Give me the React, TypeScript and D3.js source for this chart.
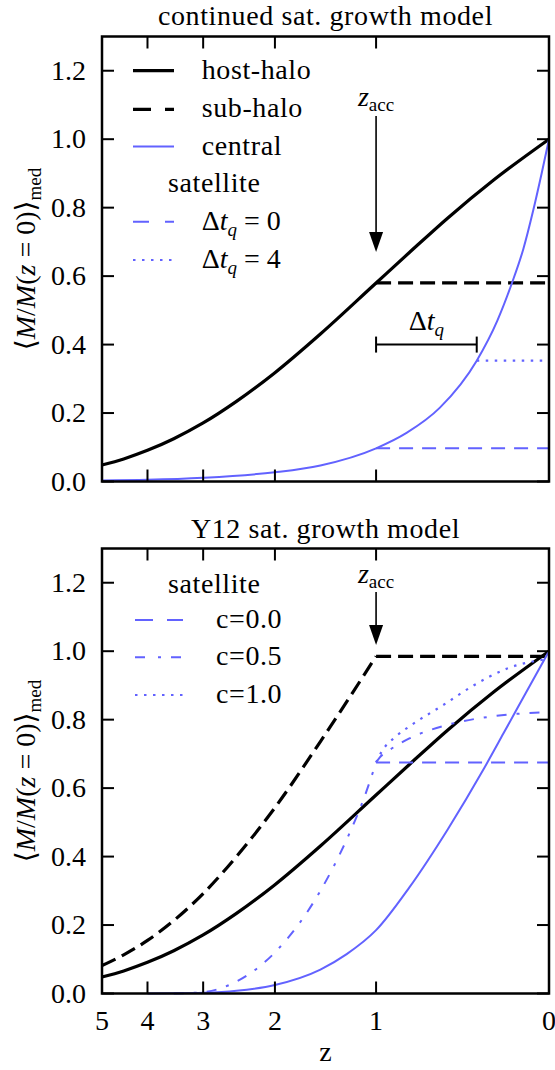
import React from 'react';
import * as d3 from 'd3';

// ---------- data ----------
const zTicks = [5, 4, 3, 2, 1, 0];
const yTicks = [0, 0.2, 0.4, 0.6, 0.8, 1.0, 1.2];
const yTickLabels = ['0.0', '0.2', '0.4', '0.6', '0.8', '1.0', '1.2'];

// host halo (same in both panels)
const hostZ = [5, 4.5, 4, 3.5, 3, 2.5, 2, 1.5, 1, 0.75, 0.5, 0.25, 0];
const hostM = [0.048, 0.066, 0.091, 0.125, 0.171, 0.234, 0.318, 0.431, 0.58, 0.669, 0.77, 0.88, 1.0];

// top panel: central galaxy
const centralTopZ = [5, 4, 3, 2, 1.5, 1, 0.77, 0.55, 0.336, 0.23, 0.16, 0.108, 0.066, 0.03, 0];
const centralTopM = [0.003, 0.005, 0.011, 0.027, 0.047, 0.097, 0.142, 0.215, 0.353, 0.47, 0.58, 0.68, 0.79, 0.9, 1.0];

// top panel: sub-halo / satellites after accretion
const zAcc = 1;
const subHaloTopZ = [1, 0];
const subHaloTopM = [0.58, 0.58];
const satDt0Z = [1, 0];
const satDt0M = [0.097, 0.097];
const satDt4Z = [0.336, 0];
const satDt4M = [0.353, 0.353];
const dtBarZ = [1, 0.336];
const dtBarM = 0.4;

// bottom panel
const subHaloBotZ = [5, 4.5, 4, 3.5, 3, 2.5, 2, 1.5, 1];
const subHaloBotM = [0.082, 0.113, 0.155, 0.213, 0.292, 0.4, 0.543, 0.736, 0.985];
const subHaloBotFlatZ = [1, 0];
const subHaloBotFlatM = [0.985, 0.985];

const centralBotZ = [4, 3.5, 3, 2.5, 2, 1.5, 1.25, 1, 0.75, 0.5, 0.3, 0.2, 0.1, 0];
const centralBotM = [0.0, 0.0005, 0.002, 0.008, 0.025, 0.07, 0.115, 0.185, 0.31, 0.48, 0.655, 0.76, 0.875, 1.0];

const satPreZ = [3.5, 3, 2.5, 2, 1.5, 1.25, 1.1, 1];
const satPreM = [0.0, 0.004, 0.035, 0.12, 0.3, 0.45, 0.57, 0.675];

const satC0Z = [1, 0];
const satC0M = [0.675, 0.675];
const satC05Z = [1, 0.97, 0.9, 0.75, 0.5, 0.25, 0];
const satC05M = [0.675, 0.69, 0.71, 0.745, 0.785, 0.81, 0.822];
const satC1Z = [1, 0.95, 0.85, 0.737, 0.53, 0.365, 0.18, 0];
const satC1M = [0.675, 0.71, 0.75, 0.784, 0.842, 0.896, 0.95, 0.978];

// ---------- layout ----------
const W = 555;
const H = 1070;
const X0 = 102;
const X1 = 549;
const TOP = { y0: 36.5, y1: 481.5 };
const BOT = { y0: 548.5, y1: 993.5 };
const BLUE = '#6262ff';
const FONT = '"Liberation Serif", "DejaVu Serif", serif';
const FS = 28;
const SUB = 19;
const LS = 0.6;

const x = d3.scaleLog().domain([6, 1]).range([X0, X1]);
const xz = (z: number) => x(1 + z);

function mkY(p: { y0: number; y1: number }) {
  return d3.scaleLinear().domain([0, 1.3]).range([p.y1, p.y0]);
}

function pathOf(zs: number[], ms: number[], y: d3.ScaleLinear<number, number>, curved = true) {
  const pts: [number, number][] = zs.map((z, i) => [xz(z), y(ms[i])]);
  const gen = d3.line<[number, number]>().x(d => d[0]).y(d => d[1]);
  if (curved) gen.curve(d3.curveMonotoneX);
  return gen(pts) || '';
}

function Frame({ p }: { p: { y0: number; y1: number } }) {
  const y = mkY(p);
  const TL = 12;
  return (
    <g>
      {zTicks.map(t => (
        <g key={'x' + t}>
          <line x1={xz(t)} x2={xz(t)} y1={p.y1} y2={p.y1 - TL} stroke="#000" strokeWidth={2} />
          <line x1={xz(t)} x2={xz(t)} y1={p.y0} y2={p.y0 + TL} stroke="#000" strokeWidth={2} />
        </g>
      ))}
      {yTicks.map((t, i) => (
        <g key={'y' + t}>
          <line x1={X0} x2={X0 + TL} y1={y(t)} y2={y(t)} stroke="#000" strokeWidth={2} />
          <line x1={X1} x2={X1 - TL} y1={y(t)} y2={y(t)} stroke="#000" strokeWidth={2} />
          <text x={86} y={y(t) + 9} textAnchor="end" fontFamily={FONT} fontSize={FS}>{yTickLabels[i]}</text>
        </g>
      ))}
      <rect x={X0} y={p.y0} width={X1 - X0} height={p.y1 - p.y0} fill="none" stroke="#000" strokeWidth={2.5} />
      <text
        transform={`translate(35,${(p.y0 + p.y1) / 2}) rotate(-90)`}
        textAnchor="middle"
        fontFamily={FONT}
        fontSize={FS}
      >
        <tspan>⟨</tspan>
        <tspan fontStyle="italic">M</tspan>
        <tspan>/</tspan>
        <tspan fontStyle="italic">M</tspan>
        <tspan>(</tspan>
        <tspan fontStyle="italic">z</tspan>
        <tspan> = 0)⟩</tspan>
        <tspan fontSize={SUB} dy={6}>med</tspan>
      </text>
    </g>
  );
}

function Arrow({ xPos, yFrom, yTo }: { xPos: number; yFrom: number; yTo: number }) {
  const hl = 20;
  const hw = 7;
  return (
    <g>
      <line x1={xPos} x2={xPos} y1={yFrom} y2={yTo - hl + 2} stroke="#000" strokeWidth={1.6} />
      <path d={`M${xPos - hw},${yTo - hl} L${xPos + hw},${yTo - hl} L${xPos},${yTo} Z`} fill="#000" />
    </g>
  );
}

function ZAccLabel({ xPos, yBase }: { xPos: number; yBase: number }) {
  return (
    <text x={xPos} y={yBase} textAnchor="middle" fontFamily={FONT} fontSize={FS}>
      <tspan fontStyle="italic">z</tspan>
      <tspan fontSize={SUB} dy={5}>acc</tspan>
    </text>
  );
}

function DtLabel({ xPos, yBase, suffix, anchor = 'start' }: { xPos: number; yBase: number; suffix?: string; anchor?: string }) {
  return (
    <text x={xPos} y={yBase} textAnchor={anchor as any} fontFamily={FONT} fontSize={FS}>
      <tspan>Δ</tspan>
      <tspan fontStyle="italic">t</tspan>
      <tspan fontStyle="italic" fontSize={SUB} dy={6}>q</tspan>
      {suffix ? <tspan dy={-6}>{suffix}</tspan> : null}
    </text>
  );
}

export default function App() {
  const yT = mkY(TOP);
  const yB = mkY(BOT);
  const legT = [70.7, 109.3, 146.5, 184, 221.7, 260];
  const legB = [585, 620, 657.3, 695];
  const txt = { fontFamily: FONT, fontSize: FS, letterSpacing: LS } as any;
  return (
    <svg width={W} height={H} style={{ position: 'absolute', left: 0, top: 0, background: '#fff' }}>
      <rect x={0} y={0} width={W} height={H} fill="#fff" />
      {/* ---------- top panel ---------- */}
      <text x={(X0 + X1) / 2} y={25} textAnchor="middle" {...txt}>continued sat. growth model</text>
      <g>
        <path d={pathOf(hostZ, hostM, yT)} fill="none" stroke="#000" strokeWidth={3.2} />
        <path d={pathOf(subHaloTopZ, subHaloTopM, yT, false)} fill="none" stroke="#000" strokeWidth={3.2} strokeDasharray="15,7" />
        <path d={pathOf(centralTopZ, centralTopM, yT)} fill="none" stroke={BLUE} strokeWidth={2} />
        <path d={pathOf(satDt0Z, satDt0M, yT, false)} fill="none" stroke={BLUE} strokeWidth={2} strokeDasharray="14,9" />
        <path d={pathOf(satDt4Z, satDt4M, yT, false)} fill="none" stroke={BLUE} strokeWidth={2.2} strokeDasharray="2.5,6.5" />
        {/* delta t bar */}
        <line x1={xz(dtBarZ[0])} x2={xz(dtBarZ[1])} y1={yT(dtBarM)} y2={yT(dtBarM)} stroke="#000" strokeWidth={2} />
        <line x1={xz(dtBarZ[0])} x2={xz(dtBarZ[0])} y1={yT(dtBarM) - 8} y2={yT(dtBarM) + 8} stroke="#000" strokeWidth={2} />
        <line x1={xz(dtBarZ[1])} x2={xz(dtBarZ[1])} y1={yT(dtBarM) - 8} y2={yT(dtBarM) + 8} stroke="#000" strokeWidth={2} />
        <DtLabel xPos={(xz(dtBarZ[0]) + xz(dtBarZ[1])) / 2} yBase={330} anchor="middle" />
        <ZAccLabel xPos={xz(zAcc)} yBase={106} />
        <Arrow xPos={xz(zAcc)} yFrom={116} yTo={252} />
        {/* legend */}
        <line x1={133} x2={174} y1={legT[0]} y2={legT[0]} stroke="#000" strokeWidth={3.2} />
        <text x={201.7} y={legT[0] + 8} {...txt}>host-halo</text>
        <line x1={133} x2={174} y1={legT[1]} y2={legT[1]} stroke="#000" strokeWidth={3.2} strokeDasharray="18,14" />
        <text x={201.7} y={legT[1] + 8} {...txt}>sub-halo</text>
        <line x1={133} x2={174} y1={legT[2]} y2={legT[2]} stroke={BLUE} strokeWidth={2} />
        <text x={201.7} y={legT[2] + 8} {...txt}>central</text>
        <text x={168} y={legT[3] + 8} {...txt}>satellite</text>
        <line x1={133} x2={174} y1={legT[4]} y2={legT[4]} stroke={BLUE} strokeWidth={2} strokeDasharray="16,16" />
        <DtLabel xPos={201.7} yBase={legT[4] + 8} suffix=" = 0" />
        <line x1={133} x2={174} y1={legT[5]} y2={legT[5]} stroke={BLUE} strokeWidth={2.2} strokeDasharray="2.5,6.5" />
        <DtLabel xPos={201.7} yBase={legT[5] + 8} suffix=" = 4" />
      </g>
      <Frame p={TOP} />

      {/* ---------- bottom panel ---------- */}
      <text x={(X0 + X1) / 2} y={538} textAnchor="middle" {...txt}>Y12 sat. growth model</text>
      <g>
        <path d={pathOf(hostZ, hostM, yB)} fill="none" stroke="#000" strokeWidth={3.2} />
        <path d={pathOf(subHaloBotZ, subHaloBotM, yB)} fill="none" stroke="#000" strokeWidth={3.2} strokeDasharray="15,7" />
        <path d={pathOf(subHaloBotFlatZ, subHaloBotFlatM, yB, false)} fill="none" stroke="#000" strokeWidth={3.2} strokeDasharray="15,7" />
        <path d={pathOf(centralBotZ, centralBotM, yB)} fill="none" stroke={BLUE} strokeWidth={2} />
        <path d={pathOf(satPreZ, satPreM, yB)} fill="none" stroke={BLUE} strokeWidth={2} strokeDasharray="10,10,3,10" />
        <path d={pathOf(satC0Z, satC0M, yB, false)} fill="none" stroke={BLUE} strokeWidth={2} strokeDasharray="14,9" />
        <path d={pathOf(satC05Z, satC05M, yB)} fill="none" stroke={BLUE} strokeWidth={2} strokeDasharray="10,10,3,10" />
        <path d={pathOf(satC1Z, satC1M, yB)} fill="none" stroke={BLUE} strokeWidth={2.2} strokeDasharray="2.5,6.5" />
        <ZAccLabel xPos={xz(zAcc)} yBase={583} />
        <Arrow xPos={xz(zAcc)} yFrom={592} yTo={645} />
        {/* legend */}
        <text x={168} y={legB[0] + 8} {...txt}>satellite</text>
        <line x1={135} x2={183} y1={legB[1]} y2={legB[1]} stroke={BLUE} strokeWidth={2} strokeDasharray="18,14" />
        <text x={216} y={legB[1] + 8} {...txt}>c=0.0</text>
        <line x1={135} x2={183} y1={legB[2]} y2={legB[2]} stroke={BLUE} strokeWidth={2} strokeDasharray="10,13,3,10" />
        <text x={216} y={legB[2] + 8} {...txt}>c=0.5</text>
        <line x1={135} x2={183} y1={legB[3]} y2={legB[3]} stroke={BLUE} strokeWidth={2.2} strokeDasharray="2.5,6.5" />
        <text x={216} y={legB[3] + 8} {...txt}>c=1.0</text>
      </g>
      <Frame p={BOT} />
      {zTicks.map(t => (
        <text key={'xl' + t} x={xz(t)} y={1030} textAnchor="middle" fontFamily={FONT} fontSize={FS}>{t}</text>
      ))}
      <text x={(X0 + X1) / 2} y={1061} textAnchor="middle" fontFamily={FONT} fontSize={FS}>z</text>
    </svg>
  );
}
